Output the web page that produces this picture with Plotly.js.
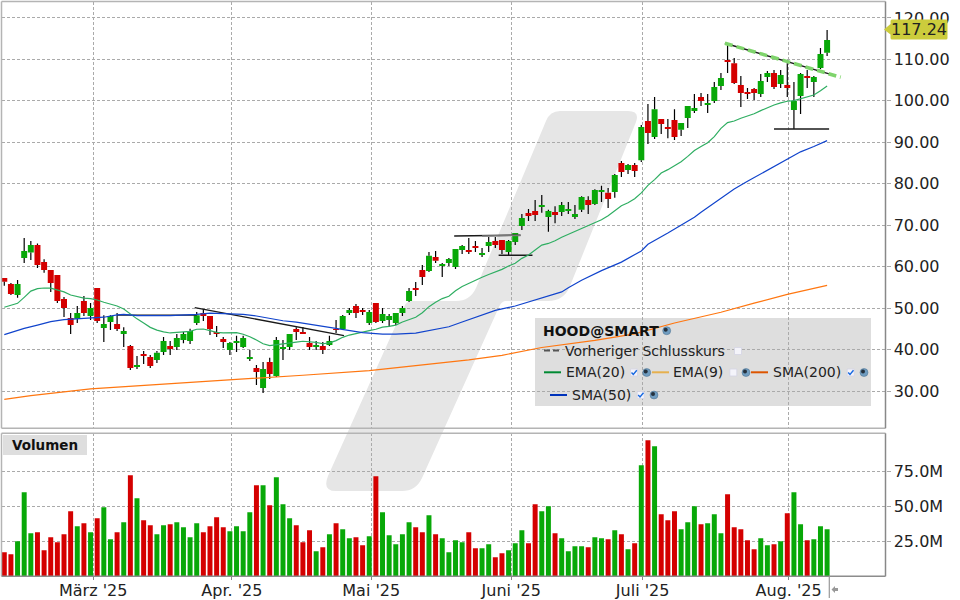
<!DOCTYPE html>
<html><head><meta charset="utf-8">
<script src="https://cdn.plot.ly/plotly-3.0.1.min.js"></script>
<style>html,body{margin:0;padding:0;background:#fff}#c{width:960px;height:600px}</style>
</head><body><div id="c"></div>
<script>
const openP=[57.26,55.8,53.15,62.1,63.4,65.2,61.1,59.2,58,52.2,47.6,47.4,51.7,48.1,54.85,45.2,46.65,46.15,43.75,40.85,35.8,38.9,38.2,37.5,39.4,40.85,40.6,42.3,42.05,46.4,48.8,48.1,44.25,42.55,39.9,41.6,40.6,37.7,35.55,30.75,37,33.6,40.15,40.6,44.95,
44.25,41.6,40.6,40.85,41.1,44.95,44.95,48.8,50.5,49.55,46.4,51.25,46.9,47.15,46.4,48.8,51.7,54.85,59.2,58.95,62.35,60.15,60.9,59.9,64,64,65,62.8,65,66.2,66.45,63.55,65.95,69.8,72.95,73.4,74.4,72,73.2,73.2,73.4,72,
73.7,76.1,75.1,78,77.8,78,85,83.3,84.5,85.7,95.15,91.3,95.6,93.7,95.4,93,95.85,97.55,100.9,99,
99.97,103.6,109.85,109.1,103.8,102.15,102.85,101.65,105.75,106.7,104.05,103.8,97.8,101.2,106,104.55,107.9,111.6];
const highP=[57.26,56.05,56.8,66.9,66.2,65.6,61.8,59.2,58,52.7,48.8,50.5,52.9,51.2,54.85,48.3,48.3,48.8,45.4,41.1,38.45,39.65,38.7,39.65,43,42.05,43.75,44.25,45,49.05,49.8,48.1,45.7,43,41.8,43.3,43.3,39.9,36.3,37,38,43,42.3,43.75,45.4,
45.45,43,42.05,41.8,43.3,47.1,48.35,50,51,50,49.55,51.25,50,48.6,48.8,50.5,54.85,56.3,60.4,63.55,63.8,60.9,62.1,64.25,65.2,66.9,66.2,64.5,67.15,67.15,66.45,66.45,68.1,72.7,73.9,76.1,77.3,73.7,74.6,75.6,75.6,74.9,
77,77,78.7,79.5,79,82.35,85.5,84.75,85,94.2,99.25,100.9,95.6,95.6,98,94.65,98.75,101.65,101.9,101.65,
104.55,106.7,113.95,110.35,106,103.1,103.1,106.5,107.2,107.45,107.45,109.1,104.55,106.7,107.45,106,112.75,117.1];
const lowP=[55.4,53.16,52.5,60.9,61.6,59.7,58.5,53.9,51.2,47.85,43.75,46.4,48.1,47.1,46.4,41.8,44.7,44.5,40.6,35.05,35.3,36.5,35.55,36.75,38.7,38.7,39.9,41.5,41.35,45.9,46.9,43.5,43,40.4,38.7,39.4,40.4,37.25,31.45,29.5,32.9,33.4,37.5,39.9,42.3,
43.75,39.9,39.9,38.9,40.85,44,44.7,48.35,47.6,48.35,45.9,46.4,46.4,45.45,45.9,48.1,51.5,52.9,55.6,58.7,60.9,57.5,60.15,59.45,63.05,63.05,63.55,62.35,63.55,64.5,63.05,62.8,65.2,68.85,71,71,73,68.4,70.5,72.2,72.7,71.5,
73.2,72.7,74.9,75.6,74.15,76.6,81.6,82.35,81.6,85.25,89.6,90.8,92,91,90.55,91.5,93.45,97.05,98.75,97.05,
99.5,102.6,106.7,104.05,98.5,100.45,100.2,100.9,104.55,102.85,103.1,100.9,93.2,96.85,103.1,100.9,107.7,110.8];
const closeP=[56.38,53.4,55.8,63.8,65.2,60.4,59.2,56.05,51.7,50,45.9,48.8,48.8,50,46.9,46.15,48.1,44.95,44.5,35.55,36.3,38.45,36.05,39.2,42.05,40.15,42.8,43.75,44.5,48.3,48.1,44.95,43.75,41.8,41.6,42.05,42.8,38.2,34.6,35.3,34.1,42.3,40.6,43.75,44.25,
43.75,40.6,41.1,39.9,42.05,44.7,48.1,49.55,48.8,49.05,49.05,46.65,48.6,48.1,48.8,50,54.1,54.35,57.5,62.6,61.4,60.65,61.85,64.25,65,63.55,64.5,63.3,65.95,65.2,64,66.2,68.1,71.75,72.2,72.45,74.9,73.4,72.45,74.9,73.9,72.7,
76.8,74.9,78.5,78.5,76.3,82.1,82.85,84.5,83.1,93.7,92.25,98,94.4,93.2,91.3,94.65,98.75,98.3,99.95,99.5,
103.35,105.5,109.35,104.3,101.9,101.65,101.9,104.8,106.7,103.35,106.25,103.1,99.97,106.5,105.5,105.75,111.3,114.7];
const volumeM=[17.1,15.7,25,60,30.7,31.4,18.6,27.9,24.3,30,46.4,35.7,37.9,31.4,41.4,49.3,26.4,31.4,38.6,72.1,55.7,40,36.4,30,36.4,37.1,38.6,35,27.9,37.9,31.4,35.7,42.1,35,32.1,35.7,32.1,45.7,65,65,50.7,70.7,51.4,41.4,36.4,24.3,32.9,17.9,
20.7,30,37.9,33.6,27.1,27.9,22.1,28.6,71.4,45.7,29.3,22.9,30,38.6,35,31.4,43.6,30,27.1,17.1,25.7,24.3,31.4,20,20,22.9,13.6,16.4,18.6,23.6,32.9,23.6,51.4,46.4,50,30.7,27.1,17.9,21.4,21.4,20.7,27.9,27.1,26.4,32.9,30,19.3,23.6,79.3,
97.1,92.9,44.3,40,46.4,33.6,38.6,50,37.1,37.9,44.3,30.7,58.6,35,33.6,25.7,19.3,27.1,22.1,22.9,25,45,60,37.1,25.7,26.4,35.7,33.6];
const ema20=[50.2,50.6,51.15,52.6,54.1,54.7,54.85,54.8,54.35,53.9,53.15,52.75,52.4,52.3,51.95,51.4,50.9,50.5,49.8,48.5,47.4,46.4,45.35,44.7,44.25,44,44.1,44.3,44.4,44.9,44.95,44.55,44.15,44,44.1,44.1,43.7,43.1,42.3,41.4,40.95,41.2,41.35,41.65,41.8,
42,41.9,41.75,41.4,41.6,42.15,42.95,43.5,43.9,44.3,44.55,44.9,45.4,45.6,45.9,46.65,47.3,47.8,48.9,50.35,51.4,52.3,52.85,54.2,55.2,56,56.8,57.45,58.1,58.7,59.35,60.15,60.8,62,62.8,64,65.2,65.6,66.25,67.1,67.8,68.5,69.3,70,70.7,71.3,72.3,73.4,74.7,75.4,76.4,77.8,79.6,81,82.6,83.4,84.4,85.3,86.6,88,89,89.9,
91.35,93.35,94.75,95.15,95.8,96.3,96.9,97.65,98.4,99,99.5,99.9,100.05,100.5,101,101.4,102.45,103.6];
const sma50Days=[0,1,3,5,7,9,11,13,15,17,18,20,22,25,29,31,34,36,38,40,42,44,47,49,52,54,57,59,62,64,67,69,72,74,77,79,82,84,85,87,90,93,96,97,100,101,104,105,107,110,112,115,117,120,122,124];
const sma50=[43.6,44.1,45.1,45.9,46.75,47.2,47.45,47.55,47.8,48.35,48.5,48.2,48.2,48.2,48.5,48.8,48.6,48.5,48.1,47.45,46.95,46.6,45.9,45.3,44.65,44.1,43.7,43.7,43.95,44.5,45.5,46.65,48.3,49.45,50.5,51.45,52.9,53.9,54.9,56.7,59.05,61.1,63.8,65.4,68.1,69,71.9,73.1,75.3,78.75,80.6,83.2,85,87.7,89,90.4];
const sma200Days=[0,4,13,25,35,45,55,62,70,75,81,89,95,101,108,113,118,124];
const sma200=[28,28.9,30.5,31.85,32.8,33.8,34.9,36.1,37.5,38.6,40.5,42.2,43.8,46.4,49,51.2,53.3,55.5];
const monthTicks=[13.4,34.3,55.3,76.4,96.2,118.2];
const monthLabels=["März '25","Apr. '25","Mai '25","Juni '25","Juli '25","Aug. '25"];
const priceTicks=[30,40,50,60,70,80,90,100,110,120];
const volumeTicks=[25,50,75];
const volumeLabels=["25.0M","50.0M","75.0M"];
const lastPrice=117.24;
const blackLines=[
 {x:[17,29],y:[48.3,48.3]},
 {x:[28.7,51.2],y:[50.1,43.35]},
 {x:[67.8,77.8],y:[67.4,67.6]},
 {x:[74.5,79.6],y:[62.75,62.75]},
 {x:[116,124.3],y:[93.2,93.2]},
 {x:[108.6,124.3],y:[113.9,106.5]}
];
const greyLine={x:[72,77.8],y:[67.4,67.55]};
const trendLine={x:[108.6,126.05],y:[113.9,105.7]};

const red='#d40000',green='#08a808';
const days=openP.map((_,i)=>i);
const wx=[],wy=[];
days.forEach(i=>{
  const t=Math.max(openP[i],closeP[i]),b=Math.min(openP[i],closeP[i]);
  wx.push(i,i,null,i,i,null);wy.push(highP[i],t,null,b,lowP[i],null);
});
const X=px=>px/960, Y=py=>1-py/600;
const lineT=(o)=>Object.assign({mode:'lines',hoverinfo:'skip',showlegend:false,xaxis:'x',yaxis:'y'},o);
const traces=[
 {type:'bar',x:days,y:volumeM,xaxis:'x',yaxis:'y2',marker:{color:days.map(i=>closeP[i]>=openP[i]?green:red),line:{width:0}},hoverinfo:'skip',showlegend:false},
 lineT({x:wx,y:wy,line:{color:'#000',width:1.2},connectgaps:false}),
 {type:'candlestick',x:days,open:openP,high:highP,low:lowP,close:closeP,xaxis:'x',yaxis:'y',
  increasing:{line:{color:green,width:0},fillcolor:green},decreasing:{line:{color:red,width:0},fillcolor:red},hoverinfo:'skip',showlegend:false},
];
blackLines.forEach(l=>traces.push(lineT({x:l.x,y:l.y,line:{color:'#1a1a1a',width:1.4}})));
traces.push(lineT({x:greyLine.x,y:greyLine.y,line:{color:'#777',width:1.6}}));
traces.push(lineT({x:days,y:ema20,line:{color:'#2fae62',width:1.2}}));
traces.push(lineT({x:sma50Days,y:sma50,line:{color:'#1144cc',width:1.2}}));
traces.push(lineT({x:sma200Days,y:sma200,line:{color:'#ff7711',width:1.2}}));
traces.push(lineT({x:trendLine.x,y:trendLine.y,line:{color:'#7fd46c',width:3.6,dash:'8px,4px'}}));

const shapes=[];
const path=(d,o)=>shapes.push(Object.assign({type:'path',xref:'paper',yref:'paper',path:d,line:{width:0},layer:'below'},o));
const P=(x,y)=>X(x)+','+Y(y);
// watermark
path('M'+P(546,121)+' Q'+P(550,111)+' '+P(560,111)+' L'+P(628,111)+' Q'+P(640,111)+' '+P(636,122)
 +' L'+P(570,286)+' Q'+P(564,301)+' '+P(548,301)+' L'+P(505,301)+' Q'+P(501,302)+' '+P(499,307)
 +' L'+P(422,478)+' Q'+P(416,491)+' '+P(402,491)+' L'+P(336,491)+' Q'+P(322,491)+' '+P(328,476)
 +' L'+P(404,307)+' Q'+P(406,301)+' '+P(412,301)+' L'+P(456,301)+' Q'+P(470,301)+' '+P(476,288)+' Z',{fillcolor:'#e6e6e6'});
const rect=(x0,y0,x1,y1,fill,layer,line)=>shapes.push({type:'rect',xref:'paper',yref:'paper',x0:X(x0),x1:X(x1),y0:Y(y0),y1:Y(y1),fillcolor:fill,line:line||{width:0},layer:layer||'below'});
rect(535,318,871,406,'#dedede');
rect(3,435,87,455,'#dedede');
const seg=(x0,y0,x1,y1,c,w,layer,dash)=>shapes.push({type:'line',xref:'paper',yref:'paper',x0:X(x0),x1:X(x1),y0:Y(y0),y1:Y(y1),line:{color:c,width:w,dash:dash||'solid'},layer:layer||'above'});
// panel frames
seg(1.5,1.5,885.5,1.5,'#b4b4b4',1.5);seg(1.5,1.5,1.5,428.3,'#b4b4b4',1.5);seg(1.5,428.3,885.5,428.3,'#b4b4b4',1.5);seg(885.5,1.5,885.5,428.3,'#888',1.5);
seg(1.5,433.3,885.5,433.3,'#b4b4b4',1.5);seg(1.5,433.3,1.5,576.3,'#b4b4b4',1.5);seg(1.5,576.3,885.5,576.3,'#8c8c8c',1.5);seg(885.5,433.3,885.5,576.3,'#888',1.5);
seg(829.3,576,829.3,598,'#999',1.2);
path('M'+P(831.5,589.5)+' L'+P(835,586)+' L'+P(835,588)+' L'+P(838,588)+' L'+P(838,591)+' L'+P(835,591)+' L'+P(835,593)+' Z',{fillcolor:'#999',layer:'above'});
// last price tag
path('M'+P(884,29.4)+' L'+P(890.5,24)+' L'+P(890.5,21)+' Q'+P(890.5,19.5)+' '+P(892,19.5)+' L'+P(946,19.5)+' Q'+P(947.5,19.5)+' '+P(947.5,21)+' L'+P(947.5,38)+' Q'+P(947.5,39.5)+' '+P(946,39.5)+' L'+P(892,39.5)+' Q'+P(890.5,39.5)+' '+P(890.5,38)+' L'+P(890.5,34.5)+' Z',{fillcolor:'#cccc3c',layer:'above'});
// legend swatches
const swatch=(x0,x1,y,c,dash)=>seg(x0,y,x1,y,c,2,'above',dash);
swatch(544,561,350.5,'#555','6px,3px');
swatch(544,561,372.3,'#008a33');swatch(652,669,372.3,'#e6b04e');swatch(751,768,372.3,'#dd5500');swatch(550,567,395,'#0033bb');
const icon=(x,y)=>{
  shapes.push({type:'circle',xref:'paper',yref:'paper',x0:X(x-4),x1:X(x+4),y0:Y(y+4),y1:Y(y-4),fillcolor:'#6f9cc0',line:{color:'#4a6f8c',width:0.5},layer:'above'});
  shapes.push({type:'circle',xref:'paper',yref:'paper',x0:X(x-3),x1:X(x+1),y0:Y(y+1),y1:Y(y-3),fillcolor:'#24303c',line:{width:0},layer:'above'});
};
const box=(x,y,checked)=>{
  shapes.push({type:'rect',xref:'paper',yref:'paper',x0:X(x-3.5),x1:X(x+3.5),y0:Y(y+3.5),y1:Y(y-3.5),fillcolor:'#f4f4fa',line:{color:'#d4d4e4',width:0.8},layer:'above'});
  if(checked) path('M'+P(x-2.5,y)+' L'+P(x-0.7,y+2)+' L'+P(x+2.8,y-2.2),{line:{color:'#1668e0',width:1.4},layer:'above',fillcolor:'rgba(0,0,0,0)'});
};
icon(666.7,330.7);box(738,351,false);
box(634,372.5,true);icon(646.7,372.5);box(733.3,372.5,false);icon(746,372.5);box(850.7,372.5,true);icon(864,372.5);
box(640.7,395,true);icon(654,395);

const ann=(x,y,text,o)=>Object.assign({xref:'paper',yref:'paper',x:X(x),y:Y(y),text:text,showarrow:false,xanchor:'left',yanchor:'middle',borderpad:0,borderwidth:0,font:{family:'DejaVu Sans',size:14,color:'#222'}},o||{});
const annotations=[
 ann(543,330.7,'<b>HOOD@SMART</b>',{font:{family:'DejaVu Sans',size:14,color:'#111'}}),
 ann(565,350.7,'Vorheriger Schlusskurs'),
 ann(565.7,372.3,'EMA(20)'),ann(673.3,372.3,'EMA(9)'),ann(772.7,372.3,'SMA(200)'),ann(571.7,395,'SMA(50)'),
 ann(12,445,'<b>Volumen</b>',{font:{family:'DejaVu Sans',size:13.5,color:'#111'}}),
 ann(919,29.4,lastPrice.toFixed(2),{xanchor:'center',font:{family:'DejaVu Sans',size:16,color:'#222'}})
];
const gridC='#aaaaaa';
const layout={
 width:960,height:600,margin:{l:0,r:0,t:0,b:0},paper_bgcolor:'#fff',plot_bgcolor:'rgba(0,0,0,0)',showlegend:false,
 bargap:0.25,boxgap:0.05,boxgroupgap:0.05,hovermode:false,
 font:{family:'DejaVu Sans',size:16,color:'#222'},
 xaxis:{domain:[X(1.5),X(885.5)],range:[-0.42,132.8],type:'linear',anchor:'y2',tickmode:'array',tickvals:monthTicks,ticktext:monthLabels,
  showgrid:true,gridcolor:gridC,griddash:'3px,2px',gridwidth:1,zeroline:false,showline:false,ticks:'outside',ticklen:3,tickcolor:'#888',ticklabelstandoff:-4,tickfont:{size:16,family:'DejaVu Sans',color:'#222'},rangeslider:{visible:false},fixedrange:true},
 yaxis:{domain:[Y(428.3),Y(1.5)],range:[21,123.97],side:'right',anchor:'x',tickmode:'array',tickvals:priceTicks,tickformat:'.2f',
  showgrid:true,gridcolor:gridC,griddash:'3px,2px',gridwidth:1,zeroline:false,showline:false,ticks:'outside',ticklen:4,tickcolor:'#aaa',tickfont:{size:16,family:'DejaVu Sans',color:'#222'},fixedrange:true},
 yaxis2:{domain:[Y(576.3),Y(433.3)],range:[0,102.1],side:'right',anchor:'x',tickmode:'array',tickvals:volumeTicks,ticktext:volumeLabels,
  showgrid:true,gridcolor:gridC,griddash:'3px,2px',gridwidth:1,zeroline:false,showline:false,ticks:'outside',ticklen:4,tickcolor:'#aaa',tickfont:{size:16,family:'DejaVu Sans',color:'#222'},fixedrange:true},
 shapes:shapes,annotations:annotations
};
Plotly.newPlot('c',traces,layout,{staticPlot:true,displayModeBar:false});
</script></body></html>
